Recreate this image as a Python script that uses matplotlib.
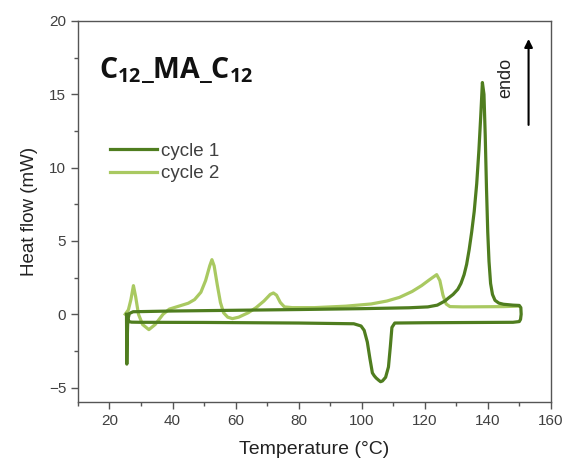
import matplotlib
matplotlib.use("Agg")
import matplotlib.pyplot as plt
from matplotlib.ticker import MultipleLocator

plt.rcParams['font.family'] = ['Liberation Sans', 'DejaVu Sans']
plt.rcParams['mathtext.fontset'] = 'custom'
plt.rcParams['mathtext.bf'] = 'Open Sans:bold'
plt.rcParams['mathtext.rm'] = 'Open Sans'

# cycle 1: heating 25 -> 150, then cooling 150 -> 25
cycle1_T = [25.4, 25.5, 25.6, 25.8, 26.3, 27.5, 40, 60, 80, 100, 115, 121, 124,
            126.4, 127.5, 129, 130.5, 131.5, 132.5, 133.3, 134.1, 134.9, 135.7,
            136.5, 137.2, 137.8, 138.3, 138.8, 139.2, 139.6, 140.0, 140.4, 140.9,
            141.5, 142.3, 143.5, 145, 148, 150, 150.5, 150.6, 150.4, 150,
            148, 120, 110.5, 109.6, 109.1, 108.5, 107.6, 106.6, 106.0, 105.4,
            104.6, 104.0, 103.4, 102.6, 101.8, 100.8, 99.8, 97.5, 80, 50, 30,
            27, 26.2, 25.8]
cycle1_hf = [0.0, -3.4, -2.0, -0.4, 0.05, 0.17, 0.22, 0.27, 0.32, 0.38, 0.44, 0.5,
             0.62, 0.9, 1.1, 1.35, 1.7, 2.1, 2.7, 3.4, 4.4, 5.6, 7.0,
             8.9, 11.2, 13.6, 15.8, 15.0, 12.2, 8.6, 5.6, 3.6, 2.1,
             1.35, 0.95, 0.76, 0.68, 0.62, 0.6, 0.45, 0.0, -0.35, -0.5,
             -0.55, -0.58, -0.6, -0.9, -2.2, -3.6, -4.3, -4.55, -4.6, -4.5,
             -4.35, -4.2, -4.0, -3.0, -1.9, -1.1, -0.8, -0.65, -0.6, -0.56, -0.55,
             -0.54, -0.5, -0.35]

# cycle 2: heating 25 -> 150
cycle2_T = [25.0, 26.0, 26.8, 27.6, 28.3, 29.2, 30.5, 32.5, 34.5, 37, 39, 42, 45,
            47, 49, 50.5, 51.8, 52.5, 53.2, 54.2, 55.2, 56.2, 57.5, 59, 61, 64,
            66.5, 69, 71, 72, 73, 74.2, 75.5, 78, 85, 95, 103, 108, 112, 116, 119,
            121.5, 123.8, 124.8, 125.8, 126.8, 128, 132, 145, 149.5]
cycle2_hf = [0.0, 0.3, 1.0, 1.95, 1.2, 0.0, -0.7, -1.05, -0.7, 0.0, 0.35, 0.55, 0.75,
             1.0, 1.5, 2.3, 3.3, 3.72, 3.3, 2.0, 0.8, 0.1, -0.2, -0.3, -0.2, 0.1,
             0.45, 0.9, 1.35, 1.45, 1.3, 0.8, 0.5, 0.45, 0.45, 0.55, 0.7, 0.9, 1.15,
             1.55, 1.95, 2.35, 2.7, 2.3, 1.3, 0.7, 0.52, 0.5, 0.52, 0.55]

dark = '#4f7d1f'
light = '#a9c961'
txt = '#404040'

fig = plt.figure(figsize=(5.69, 4.65), dpi=100)
ax = fig.add_axes([0.137, 0.135, 0.831, 0.82])

l2, = ax.plot(cycle2_T, cycle2_hf, color=light, lw=2.3, solid_joinstyle='round')
l1, = ax.plot(cycle1_T, cycle1_hf, color=dark, lw=2.3, solid_joinstyle='round')

ax.set_xlim(10, 160)
ax.set_ylim(-6, 20)
ax.xaxis.set_major_locator(MultipleLocator(20))
ax.xaxis.set_minor_locator(MultipleLocator(10))
ax.yaxis.set_major_locator(MultipleLocator(5))
ax.yaxis.set_minor_locator(MultipleLocator(2.5))
ax.tick_params(which='both', direction='out', colors='#555555', labelcolor=txt,
               labelsize=11, width=1)
ax.tick_params(which='major', length=5)
ax.tick_params(which='minor', length=3)
for s in ax.spines.values():
    s.set_color('#555555')
    s.set_linewidth(1)

ax.set_xlabel('Temperature (°C)', fontsize=14, color='#222222', labelpad=9)
ax.set_ylabel('Heat flow (mW)', fontsize=13.5, color='#222222', labelpad=8)

ax.text(0.045, 0.87, r'$\mathbf{C_{12}\_MA\_C_{12}}$', transform=ax.transAxes,
        fontsize=20.5, color='#111111', va='center', ha='left')

ax.legend([l1, l2], ['cycle 1', 'cycle 2'], loc='upper left',
          bbox_to_anchor=(0.033, 0.725), frameon=False, fontsize=13.5,
          handlelength=2.5, handletextpad=0.2, labelspacing=0.28,
          labelcolor=txt)

ax.text(0.905, 0.85, 'endo', transform=ax.transAxes, rotation=90,
        fontsize=13, color='#222222', ha='center', va='center')
ax.annotate('', xy=(0.953, 0.96), xytext=(0.953, 0.72), xycoords='axes fraction',
            arrowprops=dict(arrowstyle='-|>', color='black', lw=1.5,
                            mutation_scale=12))

fig.savefig('out.png', dpi=100)
